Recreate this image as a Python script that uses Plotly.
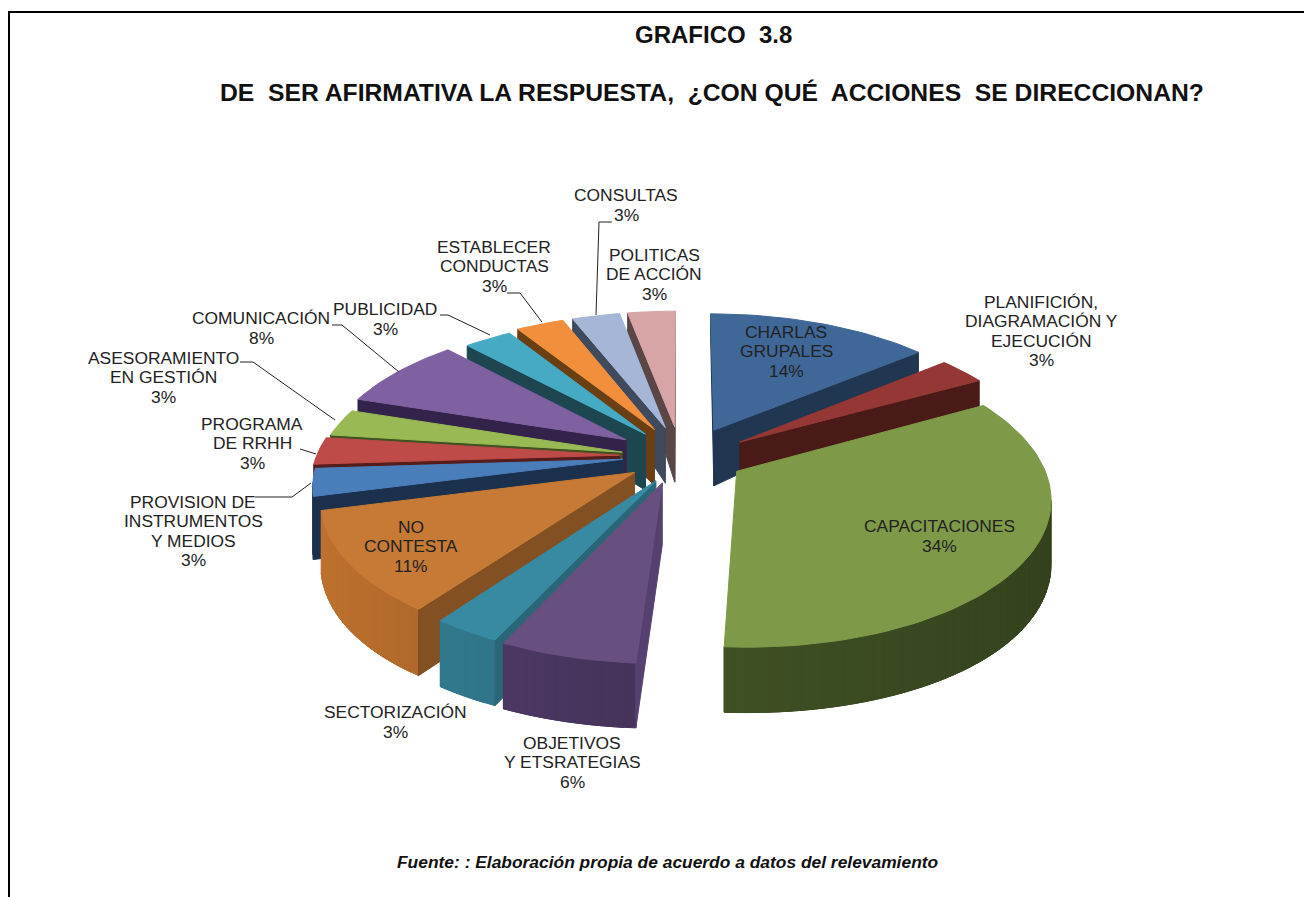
import math
import plotly.graph_objects as go

categories = ["CHARLAS GRUPALES", "PLANIFICIÓN, DIAGRAMACIÓN Y EJECUCIÓN", "CAPACITACIONES",
              "OBJETIVOS Y ETSRATEGIAS", "SECTORIZACIÓN", "NO CONTESTA",
              "PROVISION DE INSTRUMENTOS Y MEDIOS", "PROGRAMA DE RRHH", "ASESORAMIENTO EN GESTIÓN",
              "COMUNICACIÓN", "PUBLICIDAD", "ESTABLECER CONDUCTAS", "CONSULTAS", "POLITICAS DE ACCIÓN"]
values = [14, 3, 34, 6, 3, 11, 3, 3, 3, 8, 3, 3, 3, 3]
pulls = [0.19, 0.19, 0.21, 0.19, 0.19, 0.19, 0.19, 0.19, 0.19, 0.19, 0.19, 0.19, 0.19, 0.19]
shift_x = [10, 13, 2, -3, 6, 3, 0, -3, -2, -6, 0, 0, 1, 0]
shift_y = [1, 4, 2, 3, 4, 4, 2, 3, 5, 1, 2, 0, 0, 0]
top_colors = ["#3F6797", "#953735", "#7E9A48", "#674F80", "#388AA3", "#C67A35", "#4A7EBB", "#BE4B48",
              "#98B954", "#7F60A0", "#46AAC4", "#F28F3D", "#A6B6D6", "#D7A5A5"]
edge_colors = ["#1F3552", "#4A1A18", "#3F5024", "#45335A", "#2C6A7C", "#9A5C26", "#1B304D", "#541C1A",
               "#3F5220", "#33234A", "#1D4650", "#6B3F14", "#3F4A5C", "#5A4646"]
side_colors = ["#213650", "#4A1A18", "#3F5024", "#55406F", "#2B6678", "#825022", "#1B304D", "#541C1A",
               "#3F5220", "#33234A", "#1D4650", "#6B3F14", "#3F4A5C", "#5A4646"]

label_texts = ["CHARLAS<br>GRUPALES<br>14%", "PLANIFICIÓN,<br>DIAGRAMACIÓN Y<br>EJECUCIÓN<br>3%",
               "CAPACITACIONES<br>34%", "OBJETIVOS<br>Y ETSRATEGIAS<br>6%", "SECTORIZACIÓN<br>3%",
               "NO<br>CONTESTA<br>11%", "PROVISION DE<br>INSTRUMENTOS<br>Y MEDIOS<br>3%",
               "PROGRAMA<br>DE RRHH<br>3%", "ASESORAMIENTO<br>EN GESTIÓN<br>3%", "COMUNICACIÓN<br>8%",
               "PUBLICIDAD<br>3%", "ESTABLECER<br>CONDUCTAS<br>3%", "CONSULTAS<br>3%",
               "POLITICAS<br>DE ACCIÓN<br>3%"]
label_x = [786, 1041, 939, 572, 395, 411, 193, 252, 163, 261, 385, 494, 626, 654]
label_y = [351, 331, 536, 762, 722, 546, 531, 443, 377, 328, 319, 266, 205, 274]

leader_lines = [([612, 599, 596], [222, 222, 315]), ([507, 520, 542], [293, 293, 322]),
                ([440, 448, 490], [315, 315, 335]), ([332, 342, 399], [325, 325, 372]),
                ([240, 253, 335], [362, 362, 420]), ([300, 316], [449, 454]),
                ([255, 292, 311], [497, 497, 483])]

CX, CY = 680, 453
AX, AY = 303, 142
K = 0.16
LINE_GAP = 19.5

def project(wx, wy, i):
    w = 1 + K * wy
    return CX + AX * wx / w + shift_x[i], CY - AY * wy / w + shift_y[i]

def depth(wy):
    return 59 - 18 * wy - 11 * wy * wy

def hexmix(c, f):
    r, g, b = int(c[1:3], 16), int(c[3:5], 16), int(c[5:7], 16)
    return "#%02x%02x%02x" % tuple(min(255, int(v * f)) for v in (r, g, b))

fig = go.Figure()

def poly(xs, ys, color):
    fig.add_trace(go.Scatter(x=xs + xs[:1], y=ys + ys[:1], mode="lines", fill="toself", fillcolor=color,
                             line=dict(color=color, width=1), hoverinfo="skip", showlegend=False))

total = sum(values)
slices = []
cum = 0
for i, v in enumerate(values):
    t0 = cum / total * 2 * math.pi
    cum += v
    t1 = cum / total * 2 * math.pi
    slices.append((i, t0, t1))

def mid_wy(s):
    return math.cos((s[1] + s[2]) / 2)

for i, t0, t1 in sorted(slices, key=mid_wy, reverse=True):
    m = (t0 + t1) / 2
    ox, oy = pulls[i] * math.sin(m), pulls[i] * math.cos(m)
    n = max(4, int((t1 - t0) / 0.03))
    world = [(ox, oy)] + [(ox + math.sin(t0 + (t1 - t0) * j / n), oy + math.cos(t0 + (t1 - t0) * j / n))
                          for j in range(n + 1)]
    pts = [project(p[0], p[1], i) for p in world]
    dep = [depth(p[1]) for p in world]
    count = len(pts)
    for j in range(1, count - 1):
        a, b = j, min(j + 2, count - 1)
        if pts[j + 1][0] < pts[j][0]:
            s = math.sin(math.atan2(world[j][0] - ox, world[j][1] - oy))
            poly([pts[a][0], pts[b][0], pts[b][0], pts[a][0]],
                 [pts[a][1], pts[b][1], pts[b][1] + dep[b], pts[a][1] + dep[a]],
                 hexmix(edge_colors[i], 1.0 + 0.25 * (-s if s < 0 else 0) - 0.18 * max(s, 0)))
    for a, b in ((0, 1), (count - 1, 0)):
        if pts[b][0] < pts[a][0]:
            poly([pts[a][0], pts[b][0], pts[b][0], pts[a][0]],
                 [pts[a][1], pts[b][1], pts[b][1] + dep[b], pts[a][1] + dep[a]], side_colors[i])
    poly([p[0] for p in pts], [p[1] for p in pts], top_colors[i])

for xs, ys in leader_lines:
    fig.add_trace(go.Scatter(x=xs, y=ys, mode="lines", line=dict(color="#222222", width=1),
                             hoverinfo="skip", showlegend=False))

fig.add_trace(go.Scatter(x=[9, 9, 1304], y=[897, 12, 12], mode="lines", line=dict(color="#000000", width=2),
                         hoverinfo="skip", showlegend=False))

annotations = []
for t, x, y in zip(label_texts, label_x, label_y):
    rows = t.split("<br>")
    for k, row in enumerate(rows):
        annotations.append(dict(x=x, y=y + (k - (len(rows) - 1) / 2) * LINE_GAP, text=row, showarrow=False,
                                xanchor="center", yanchor="middle",
                                font=dict(family="Liberation Sans", size=17.4, color="#222222")))
annotations.append(dict(x=713, y=34, text="<b>GRAFICO  3.8</b>", showarrow=False,
                        font=dict(family="Liberation Sans", size=24, color="#111111")))
annotations.append(dict(x=712, y=92, text="<b>DE  SER AFIRMATIVA LA RESPUESTA,  ¿CON QUÉ  ACCIONES  SE DIRECCIONAN?</b>",
                        showarrow=False, font=dict(family="Liberation Sans", size=24.7, color="#111111")))
annotations.append(dict(x=668, y=862, text="<b><i>Fuente: : Elaboración propia de acuerdo a datos del relevamiento</i></b>",
                        showarrow=False, font=dict(family="Liberation Sans", size=17.4, color="#111111")))

fig.update_layout(width=1304, height=897, margin=dict(l=0, r=0, t=0, b=0), paper_bgcolor="white",
                  plot_bgcolor="white", annotations=annotations, showlegend=False,
                  xaxis=dict(range=[0, 1304], visible=False, fixedrange=True),
                  yaxis=dict(range=[897, 0], visible=False, fixedrange=True))
fig.write_html("out.html", config=dict(displayModeBar=False),
               post_script="document.body.style.margin='0';document.body.style.overflow='hidden';")
